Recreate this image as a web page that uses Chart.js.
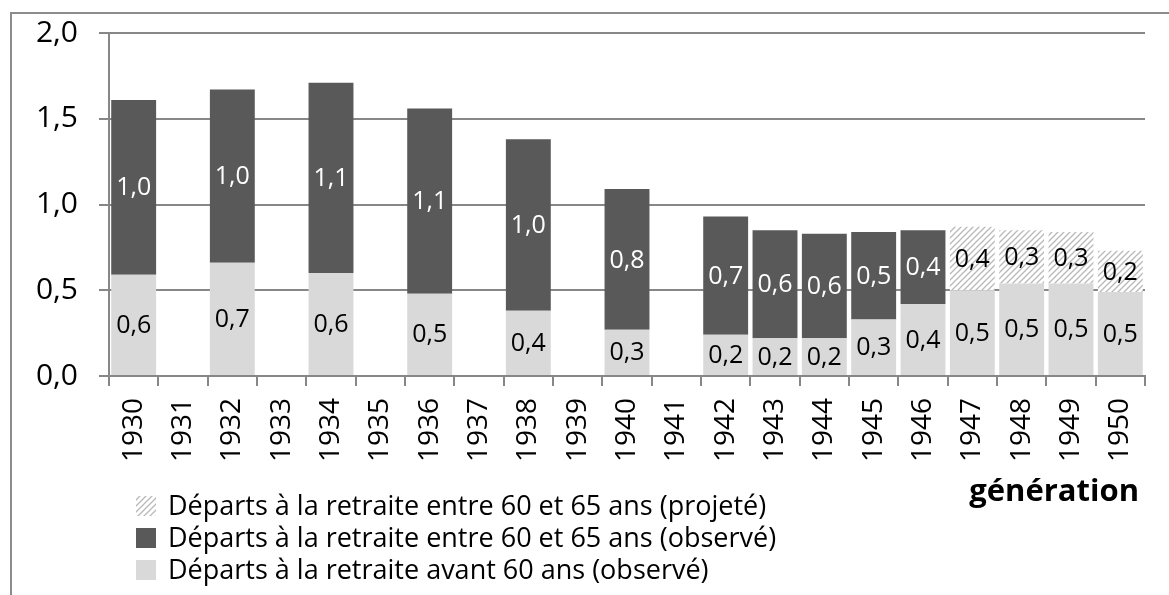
<!DOCTYPE html>
<html>
<head>
<meta charset="utf-8">
<script src="https://cdn.jsdelivr.net/npm/chart.js@4.4.1/dist/chart.umd.min.js"></script>
<style>
  html, body { margin: 0; padding: 0; background: #fff; }
</style>
</head>
<body>
<canvas id="myChart" width="1169" height="595"></canvas>
<script>
// generations on the x axis
const generations = ['1930', '1931', '1932', '1933', '1934', '1935', '1936', '1937', '1938', '1939',
    '1940', '1941', '1942', '1943', '1944', '1945', '1946', '1947', '1948', '1949', '1950'];

// values (null = no bar)
const avant60Obs = [0.59, null, 0.66, null, 0.60, null, 0.48, null, 0.38, null,
    0.27, null, 0.24, 0.22, 0.22, 0.33, 0.42, 0.50, 0.54, 0.54, 0.49];
const entre60et65Obs = [1.02, null, 1.01, null, 1.11, null, 1.08, null, 1.00, null,
    0.82, null, 0.69, 0.63, 0.61, 0.51, 0.43, null, null, null, null];
const entre60et65Proj = [null, null, null, null, null, null, null, null, null, null,
    null, null, null, null, null, null, null, 0.37, 0.31, 0.30, 0.24];

const yTicks = [0, 0.5, 1.0, 1.5, 2.0];

const legendLabels = [
    'Départs à la retraite entre 60 et 65 ans (projeté)',
    'Départs à la retraite entre 60 et 65 ans (observé)',
    'Départs à la retraite avant 60 ans (observé)'
];
const axisTitle = 'génération';

const GRID = '#878787';
const DARK = '#595959';
const LIGHT = '#d9d9d9';

function fmt(v) {
    return v.toFixed(1).replace('.', ',');
}

function hatchPattern() {
    const c = document.createElement('canvas');
    c.width = 6; c.height = 6;
    const g = c.getContext('2d');
    g.fillStyle = '#fff';
    g.fillRect(0, 0, 6, 6);
    g.strokeStyle = '#b8b8b8';
    g.lineWidth = 1.3;
    g.beginPath();
    g.moveTo(0, 6); g.lineTo(6, 0);
    g.moveTo(-3, 3); g.lineTo(3, -3);
    g.moveTo(3, 9); g.lineTo(9, 3);
    g.stroke();
    return g.createPattern(c, 'repeat');
}
const HATCH = hatchPattern();

// values written in the middle of each segment
const segmentLabels = {
    id: 'segmentLabels',
    afterDatasetsDraw(chart) {
        const ctx = chart.ctx;
        ctx.save();
        ctx.font = '25px "Open Sans"';
        ctx.textAlign = 'center';
        ctx.textBaseline = 'middle';
        chart.data.datasets.forEach((ds, i) => {
            const meta = chart.getDatasetMeta(i);
            meta.data.forEach((bar, j) => {
                const v = ds.data[j];
                if (v == null) return;
                ctx.fillStyle = ds.labelColor;
                ctx.fillText(fmt(v), bar.x, (bar.y + bar.base) / 2 + 1);
            });
        });
        ctx.restore();
    }
};

// frame, legend and axis title
const decorations = {
    id: 'decorations',
    afterDraw(chart) {
        const ctx = chart.ctx;
        ctx.save();
        ctx.strokeStyle = '#8c8c8c';
        ctx.lineWidth = 2;
        ctx.beginPath();
        ctx.moveTo(11, 600);
        ctx.lineTo(11, 13);
        ctx.lineTo(1175, 13);
        ctx.stroke();

        const fills = [HATCH, DARK, LIGHT];
        ctx.font = '27px "Open Sans"';
        ctx.textBaseline = 'middle';
        ctx.textAlign = 'left';
        legendLabels.forEach((txt, i) => {
            const cy = 506 + i * 32;
            ctx.fillStyle = fills[i];
            ctx.fillRect(136, cy - 10, 20, 20);
            ctx.fillStyle = '#000';
            ctx.fillText(txt, 168, cy + 1);
        });

        ctx.font = 'bold 31px "Open Sans"';
        ctx.textAlign = 'right';
        ctx.fillText(axisTitle, 1139, 492);
        ctx.restore();
    }
};

Chart.defaults.font.family = '"Open Sans"';
Chart.defaults.color = '#000';

const data = {
    labels: generations,
    datasets: [{
        label: legendLabels[2],
        data: avant60Obs,
        backgroundColor: LIGHT,
        labelColor: '#000'
    },
    {
        label: legendLabels[1],
        data: entre60et65Obs,
        backgroundColor: DARK,
        labelColor: '#fff'
    },
    {
        label: legendLabels[0],
        data: entre60et65Proj,
        backgroundColor: HATCH,
        labelColor: '#000'
    }]
};

const config = {
    type: 'bar',
    data: data,
    options: {
        responsive: false,
        animation: false,
        datasets: {
            bar: { barPercentage: 0.91, categoryPercentage: 1.0 }
        },
        layout: {
            padding: { left: 36, top: 33, right: 24, bottom: 129 }
        },
        plugins: {
            legend: { display: false },
            tooltip: { enabled: false }
        },
        scales: {
            x: {
                stacked: true,
                afterFit: (axis) => {
                    axis.height = 90;
                    axis.paddingLeft = 0;
                    axis.paddingRight = 0;
                },
                grid: {
                    offset: true,
                    drawOnChartArea: false,
                    tickLength: 10,
                    color: GRID,
                    lineWidth: 2
                },
                border: { color: GRID, width: 2 },
                ticks: {
                    autoSkip: false,
                    minRotation: 90,
                    maxRotation: 90,
                    padding: 12,
                    font: { size: 28 }
                }
            },
            y: {
                stacked: true,
                min: 0,
                max: 2,
                afterBuildTicks: (axis) => {
                    axis.ticks = yTicks.map((v) => ({ value: v }));
                },
                afterFit: (axis) => {
                    axis.width = 73;
                    axis.paddingTop = 0;
                    axis.paddingBottom = 0;
                },
                grid: {
                    color: GRID,
                    lineWidth: 2,
                    tickLength: 10
                },
                border: { color: GRID, width: 2 },
                ticks: {
                    padding: 21,
                    font: { size: 30 },
                    callback: (v) => fmt(v)
                }
            }
        }
    },
    plugins: [segmentLabels, decorations]
};

const myChart = new Chart(
    document.getElementById('myChart'),
    config
);
</script>
</body>
</html>
